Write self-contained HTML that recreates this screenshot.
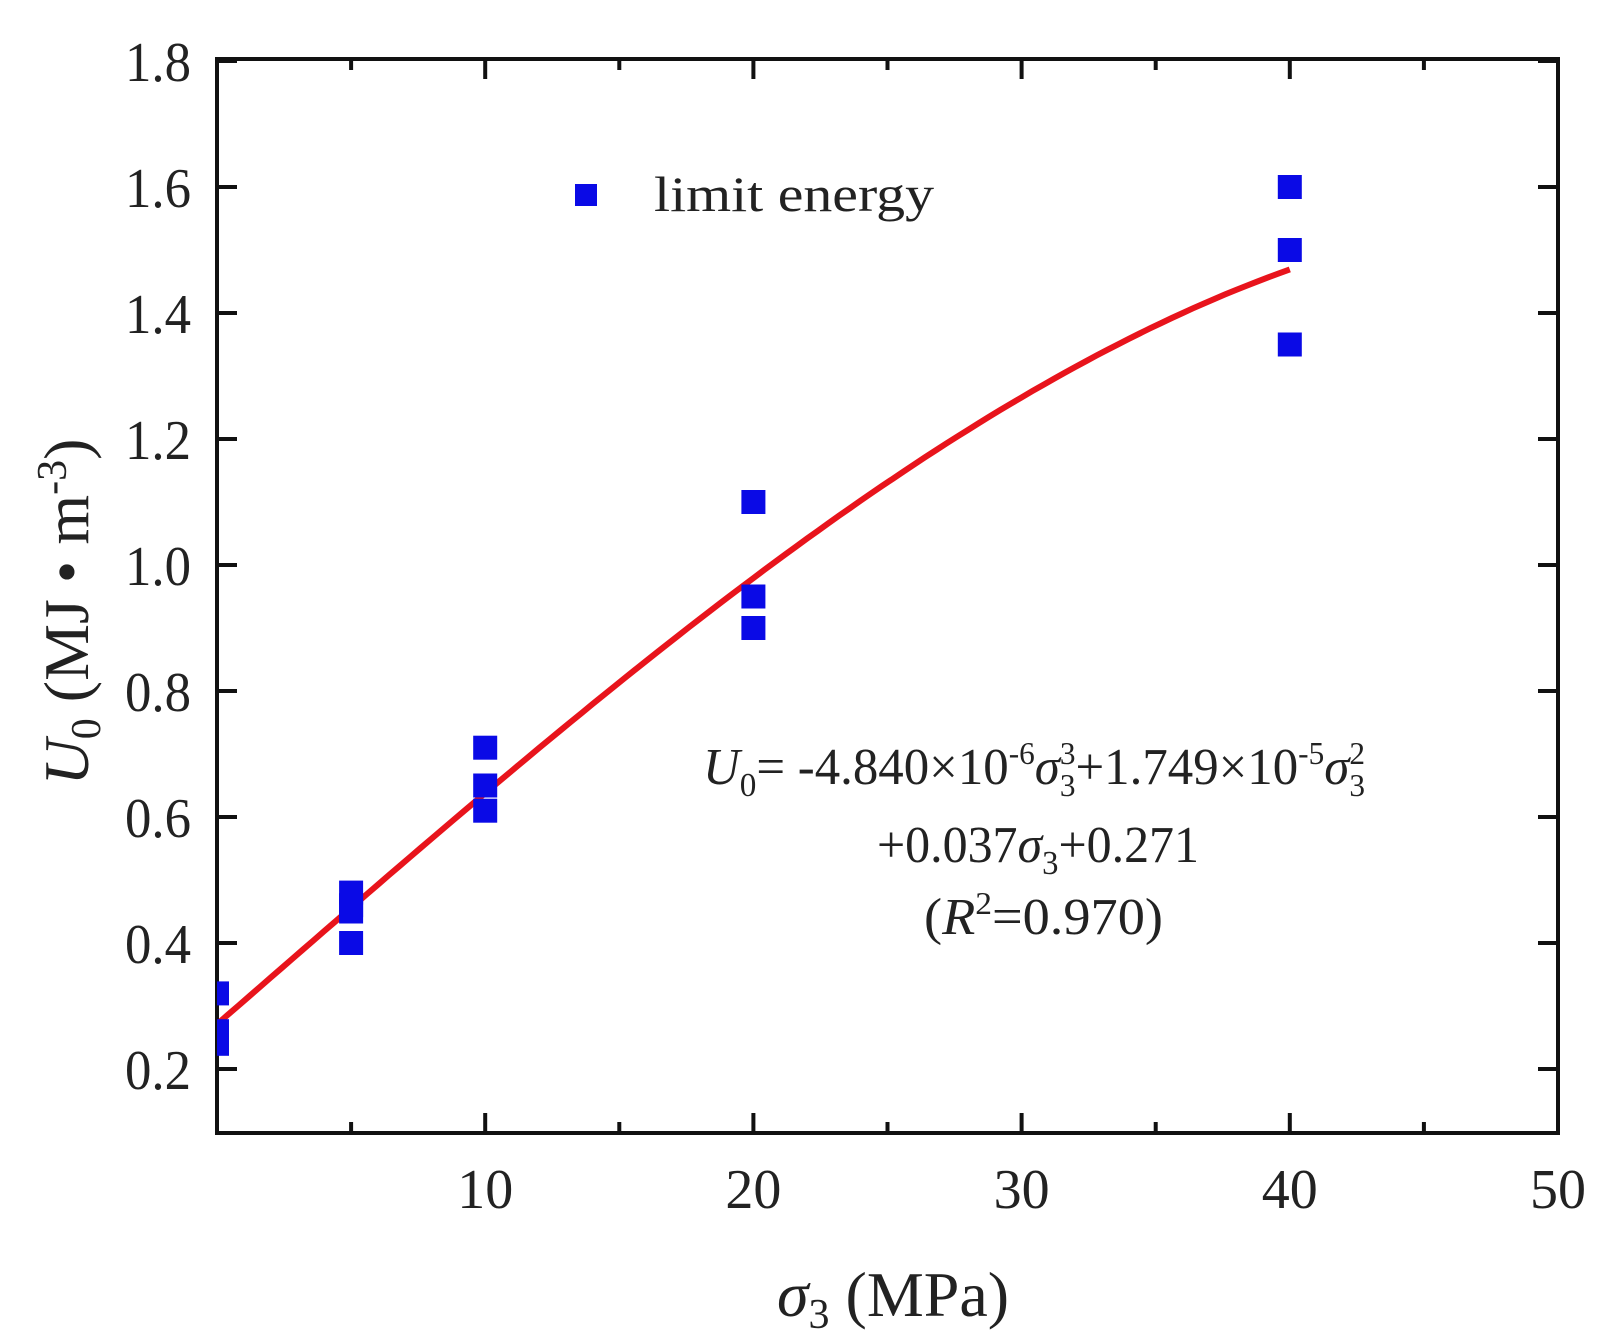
<!DOCTYPE html>
<html><head><meta charset="utf-8"><style>
html,body{margin:0;padding:0;background:#fff;}
svg{display:block;font-family:"Liberation Serif","Noto Serif CJK SC",serif;}
</style></head><body>
<svg id="chart" width="1620" height="1344" viewBox="0 0 1620 1344" xmlns="http://www.w3.org/2000/svg">
<g id="plot"></g>
</svg>
<script>
const xMajorTicks=[10,20,30,40,50];
const xMinorTicks=[5,15,25,35,45];
const yTicks=[0.2,0.4,0.6,0.8,1.0,1.2,1.4,1.6,1.8];
const yTickLabels=["0.2","0.4","0.6","0.8","1.0","1.2","1.4","1.6","1.8"];
const ptX=[0,0,0,5,5,5,5,10,10,10,20,20,20,40,40,40];
const ptY=[0.32,0.26,0.24,0.48,0.46,0.45,0.40,0.71,0.65,0.61,1.10,0.95,0.90,1.60,1.50,1.35];
const fitCoef=[-4.840e-6,1.749e-5,0.037,0.271];
const fitRange=[0,40];

const NS="http://www.w3.org/2000/svg";
const L=217,R=1558,T=59,B=1133;
function xs(v){return L+v*26.82;}
function ys(v){return 1069-(v-0.2)*630;}
const g=document.getElementById('plot');
function mk(tag,attrs,parent){const e=document.createElementNS(NS,tag);for(const k in attrs)e.setAttribute(k,attrs[k]);(parent||g).appendChild(e);return e;}

const defs=mk('defs',{});
const cp=mk('clipPath',{id:'clip'},defs);
mk('rect',{x:L,y:T,width:R-L,height:B-T},cp);

const frame=mk('rect',{x:L,y:T,width:R-L,height:B-T,fill:'none',stroke:'#111','stroke-width':4});



xMajorTicks.forEach(v=>{
  const x=xs(v);
  const t1=mk('line',{x1:x,y1:B,x2:x,y2:B-20,stroke:'#111','stroke-width':4});
  
  
  const t2=mk('line',{x1:x,y1:T,x2:x,y2:T+20,stroke:'#111','stroke-width':4});
  
  
  const lb=mk('text',{x:x,y:1208,'text-anchor':'middle','font-size':56,fill:'#222',textLength:56,lengthAdjust:'spacingAndGlyphs'});
  lb.textContent=String(v);
  
  
});
xMinorTicks.forEach(v=>{
  const x=xs(v);
  const t1=mk('line',{x1:x,y1:B,x2:x,y2:B-11,stroke:'#111','stroke-width':4});
  
  
  const t2=mk('line',{x1:x,y1:T,x2:x,y2:T+11,stroke:'#111','stroke-width':4});
  
  
});
yTicks.forEach((v,i)=>{
  const y=ys(v);
  const t1=mk('line',{x1:L,y1:y,x2:L+20,y2:y,stroke:'#111','stroke-width':4});
  
  
  const t2=mk('line',{x1:R,y1:y,x2:R-20,y2:y,stroke:'#111','stroke-width':4});
  
  
  const lb=mk('text',{x:191,y:y+20,'text-anchor':'end','font-size':56,fill:'#222',textLength:66,lengthAdjust:'spacingAndGlyphs'});
  lb.textContent=yTickLabels[i];
  
  
});

let d='';
for(let i=0;i<=100;i++){
  const x=fitRange[0]+(fitRange[1]-fitRange[0])*i/100;
  const y=fitCoef[0]*x*x*x+fitCoef[1]*x*x+fitCoef[2]*x+fitCoef[3];
  d+=(i?'L':'M')+xs(x).toFixed(1)+','+ys(y).toFixed(1);
}
const curve=mk('path',{d:d,fill:'none',stroke:'#e8141c','stroke-width':6,'clip-path':'url(#clip)'});



const pg=mk('g',{'clip-path':'url(#clip)'});
ptX.forEach((xv,i)=>{
  const s=mk('rect',{x:xs(xv)-12,y:ys(ptY[i])-12,width:24,height:24,fill:'#0a0ae6'},pg);
  
  
});
</script>
<svg style="position:absolute;left:0;top:0" width="1620" height="1344" xmlns="http://www.w3.org/2000/svg" font-family="Liberation Serif, serif">
 <g>
  <rect x="575" y="184" width="22" height="22" fill="#0a0ae6"/>
  <text x="654" y="211" font-size="50" fill="#222" textLength="280" lengthAdjust="spacingAndGlyphs">limit energy</text>
 </g>
 <g fill="#222" font-size="52">
  <text x="703" y="784" textLength="662" lengthAdjust="spacingAndGlyphs"><tspan font-style="italic">U</tspan><tspan font-size="34" dy="12">0</tspan><tspan dy="-12">= -4.840×10</tspan><tspan font-size="32" dy="-20">-6</tspan><tspan font-style="italic" dy="20">σ</tspan><tspan font-size="32" dy="-20">3</tspan><tspan font-size="32" dx="-16" dy="32">3</tspan><tspan dy="-12">+1.749×10</tspan><tspan font-size="32" dy="-20">-5</tspan><tspan font-style="italic" dy="20">σ</tspan><tspan font-size="32" dy="-20">2</tspan><tspan font-size="32" dx="-16" dy="32">3</tspan></text>
  <text x="877" y="862" textLength="322" lengthAdjust="spacingAndGlyphs">+0.037<tspan font-style="italic">σ</tspan><tspan font-size="34" dy="12">3</tspan><tspan dy="-12">+0.271</tspan></text>
  <text x="924" y="934" textLength="239" lengthAdjust="spacingAndGlyphs">(<tspan font-style="italic">R</tspan><tspan font-size="32" dy="-20">2</tspan><tspan dy="20">=0.970)</tspan></text>
 </g>
 <text x="893" y="1316" text-anchor="middle" font-size="64" fill="#222"><tspan font-style="italic">σ</tspan><tspan font-size="42" dy="12">3</tspan><tspan dy="-12"> (MPa)</tspan></text>
 <text transform="translate(88,612) rotate(-90)" text-anchor="middle" font-size="64" fill="#222"><tspan font-style="italic">U</tspan><tspan font-size="42" dy="12">0</tspan><tspan dy="-12"> (MJ • m</tspan><tspan font-size="42" dy="-22">-3</tspan><tspan dy="22">)</tspan></text>
</svg>
</body></html>
